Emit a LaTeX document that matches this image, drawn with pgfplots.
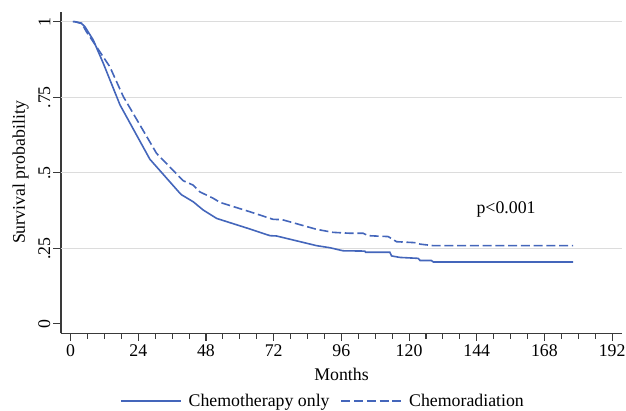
\documentclass[border=0pt]{standalone}
\usepackage{pgfplots}
\pgfplotsset{compat=1.18}
\usepackage{fontspec}
\setmainfont{Liberation Serif}
\definecolor{kmblue}{HTML}{4466BB}
\definecolor{axgray}{HTML}{3A3A3A}
\definecolor{gridgray}{HTML}{DCDCDC}
\begin{document}
\begin{tikzpicture}
\begin{axis}[
  scale only axis, width=561pt, height=321.6pt,
  at={(0pt,0pt)}, anchor=south west,
  xmin=-3.4, xmax=195.5, ymin=-0.031, ymax=1.033,
  axis lines*=left,
  axis line style={axgray, line width=1.3pt},
  xtick={0,24,...,192}, minor x tick num=3,
  ytick={0,0.25,0.5,0.75,1}, yticklabels={0,.25,.5,.75,1},
  minor y tick num=0,
  tick align=outside, major tick length=7.5pt, minor tick length=5.5pt,
  tick style={axgray, line width=1.1pt},
  font=\fontsize{17.8}{21}\selectfont,
  /pgf/number format/assume math mode=true,
  yticklabel style={rotate=90, anchor=south, inner sep=3pt},
  extra y ticks={0.25,0.5,0.75,1}, extra y tick labels={},
  extra y tick style={grid=major, major tick length=0pt},
  grid style={gridgray, line width=1.2pt},
  xlabel={Months}, ylabel={Survival probability},
  xlabel style={at={(axis description cs:0.5,-0.1452)}, anchor=base},
  ylabel style={at={(axis description cs:-0.0642,0.5)}, anchor=base, rotate=0},
  legend style={draw=none, fill=none, at={(0.467,-0.2105)}, anchor=center,
    font=\fontsize{17.8}{21}\selectfont,
    /tikz/every odd column/.append style={column sep=5pt},
    /tikz/every even column/.append style={column sep=9pt}},
  legend columns=2,
  legend image code/.code={\draw[#1] (0pt,0pt) -- (60pt,0pt);},
]
\addplot[kmblue, line width=1.6pt] coordinates {
(0.8,1) (1.5,1) (3.9,0.994) (5.1,0.983) (8,0.94) (11.6,0.862) (17.5,0.725)
(28.1,0.545) (38.8,0.432) (39.4,0.427) (43.5,0.404) (47,0.377) (51.8,0.349)
(63.6,0.314) (70.7,0.292) (73,0.291) (87.2,0.259) (92,0.252) (96.6,0.242)
(104.3,0.241) (104.6,0.237) (113.2,0.237) (113.8,0.225) (116.8,0.22)
(123.2,0.217) (123.9,0.21) (127.9,0.21) (128.6,0.205) (178.2,0.205)
};
\addlegendentry{Chemotherapy only}
\addplot[kmblue, line width=1.6pt, dash pattern=on 9pt off 3.75pt] coordinates {
(0.8,1) (1.5,1) (3.9,0.995) (5.6,0.967) (9.2,0.917) (13.9,0.851) (18.7,0.752)
(30.5,0.564) (39.9,0.474) (43.5,0.459) (45.8,0.437) (50.5,0.416) (53,0.402)
(63.6,0.371) (71.8,0.346) (75,0.345) (87.2,0.313) (93,0.303) (99,0.30)
(103.7,0.30) (105.5,0.292) (112.6,0.289) (115.6,0.272) (122,0.269)
(123.9,0.264) (128.6,0.259) (178.2,0.259)
};
\addlegendentry{Chemoradiation}
\node[anchor=base, font=\fontsize{17.8}{21}\selectfont] at (axis cs:154.4,0.367) {p<0.001};
\end{axis}
\pgfresetboundingbox
\path (-61pt,-76.7pt) rectangle (565pt,333.3pt);
\end{tikzpicture}
\end{document}
